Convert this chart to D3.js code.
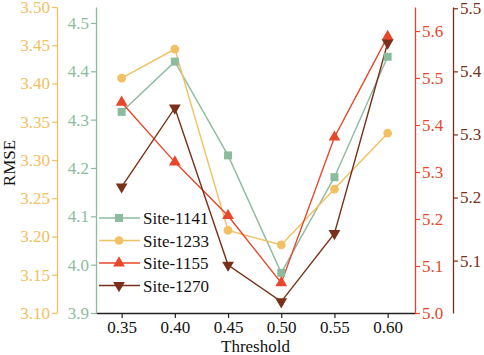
<!DOCTYPE html>
<html>
<head>
<meta charset="utf-8">
<script src="https://cdn.jsdelivr.net/npm/d3@7"></script>
</head>
<body style="margin:0; background:#fff">
<div id="container"></div>
<script>
// data
const thresholds = [0.35, 0.40, 0.45, 0.50, 0.55, 0.60];
const xTicks = ["0.35", "0.40", "0.45", "0.50", "0.55", "0.60"];
const site1141 = [4.316, 4.420, 4.226, 3.983, 4.181, 4.430];
const site1233 = [3.407, 3.445, 3.208, 3.189, 3.262, 3.335];
const site1155 = [5.448, 5.321, 5.207, 5.064, 5.374, 5.588];
const site1270 = [5.217, 5.342, 5.093, 5.035, 5.143, 5.445];

const W = 484, H = 355;
const plot = { left: 96, right: 415, top: 7, bottom: 313 };
const serif = "Liberation Serif";
const fontSize = 17;

const svg = d3.select("#container")
    .append("svg")
    .attr("width", W)
    .attr("height", H);

const x = d3.scaleLinear().domain([0.3259, 0.6257]).range([plot.left, plot.right]);

// four y scales, one per site
const yGreen = d3.scaleLinear().domain([3.9, 4.533]).range([plot.bottom, plot.top]);
const yYellow = d3.scaleLinear().domain([3.10, 3.50]).range([plot.bottom, plot.top]);
const yRed = d3.scaleLinear().domain([5.0, 5.651]).range([plot.bottom, plot.top]);
const yDark = d3.scaleLinear().domain([5.017, 5.502]).range([plot.bottom, plot.top]);

const cGreen = "#8dbb9f", cYellow = "#f1c062", cRed = "#e8472b", cDark = "#7a3018";

function styleAxis(sel, color) {
    sel.select(".domain").attr("stroke", color).attr("stroke-width", 1.3);
    sel.selectAll(".tick line").attr("stroke", color).attr("stroke-width", 1.2);
    sel.selectAll(".tick text").attr("fill", color);
}

// x axis
const gx = svg.append("g")
    .attr("transform", `translate(0, ${plot.bottom})`)
    .call(d3.axisBottom(x).tickValues(thresholds).tickFormat((d, i) => xTicks[i])
        .tickSize(5).tickSizeOuter(0).tickPadding(3));
styleAxis(gx, "#222");
gx.selectAll(".tick text").attr("fill", "#111");

svg.append("text")
    .attr("x", (plot.left + plot.right) / 2)
    .attr("y", 352)
    .attr("text-anchor", "middle")
    .attr("fill", "#111")
    .text("Threshold");

// left axes
const gYellow = svg.append("g")
    .attr("transform", "translate(57, 0)")
    .call(d3.axisLeft(yYellow).tickValues([3.10, 3.15, 3.20, 3.25, 3.30, 3.35, 3.40, 3.45, 3.50])
        .tickFormat(d3.format(".2f")).tickSize(5).tickSizeOuter(0).tickPadding(2));
styleAxis(gYellow, cYellow);

const gGreen = svg.append("g")
    .attr("transform", `translate(${plot.left}, 0)`)
    .call(d3.axisLeft(yGreen).tickValues([3.9, 4.0, 4.1, 4.2, 4.3, 4.4, 4.5])
        .tickFormat(d3.format(".1f")).tickSize(5).tickSizeOuter(0).tickPadding(2));
styleAxis(gGreen, cGreen);

// right axes
const gRed = svg.append("g")
    .attr("transform", `translate(${plot.right}, 0)`)
    .call(d3.axisRight(yRed).tickValues([5.0, 5.1, 5.2, 5.3, 5.4, 5.5, 5.6])
        .tickFormat(d3.format(".1f")).tickSize(5).tickSizeOuter(0).tickPadding(2));
styleAxis(gRed, cRed);

const gDark = svg.append("g")
    .attr("transform", "translate(453, 0)")
    .call(d3.axisRight(yDark).tickValues([5.1, 5.2, 5.3, 5.4, 5.5])
        .tickFormat(d3.format(".1f")).tickSize(5).tickSizeOuter(0).tickPadding(2));
styleAxis(gDark, cDark);

svg.append("text")
    .attr("transform", "translate(15, 163) rotate(-90)")
    .attr("text-anchor", "middle")
    .attr("fill", "#111")
    .text("RMSE");

// series
const series = [
    { name: "Site-1141", values: site1141, y: yGreen, color: cGreen, symbol: d3.symbolSquare, size: 64, rot: 0 },
    { name: "Site-1233", values: site1233, y: yYellow, color: cYellow, symbol: d3.symbolCircle, size: 60, rot: 0 },
    { name: "Site-1155", values: site1155, y: yRed, color: cRed, symbol: d3.symbolTriangle, size: 60, rot: 0 },
    { name: "Site-1270", values: site1270, y: yDark, color: cDark, symbol: d3.symbolTriangle, size: 60, rot: 180 }
];

series.forEach(s => {
    const line = d3.line()
        .x((d, i) => x(thresholds[i]))
        .y(d => s.y(d));
    svg.append("path")
        .datum(s.values)
        .attr("fill", "none")
        .attr("stroke", s.color)
        .attr("stroke-width", 1.4)
        .attr("d", line);
});

series.forEach(s => {
    svg.selectAll(null)
        .data(s.values)
        .enter()
        .append("path")
        .attr("d", d3.symbol().type(s.symbol).size(s.size))
        .attr("transform", (d, i) => `translate(${x(thresholds[i])}, ${s.y(d)}) rotate(${s.rot})`)
        .attr("fill", s.color);
});

// legend
const legend = svg.append("g").attr("transform", "translate(99, 218)");
series.forEach((s, i) => {
    const row = legend.append("g").attr("transform", `translate(0, ${i * 22.5})`);
    row.append("line")
        .attr("x1", 0).attr("x2", 41)
        .attr("stroke", s.color).attr("stroke-width", 1.4);
    row.append("path")
        .attr("d", d3.symbol().type(s.symbol).size(s.size))
        .attr("transform", `translate(20, 0) rotate(${s.rot})`)
        .attr("fill", s.color);
    row.append("text")
        .attr("x", 44)
        .attr("y", 6)
        .attr("fill", "#111")
        .text(s.name);
});

// set the font on every text directly
svg.selectAll("text")
    .attr("font-family", serif)
    .attr("font-size", fontSize);
</script>
</body>
</html>
